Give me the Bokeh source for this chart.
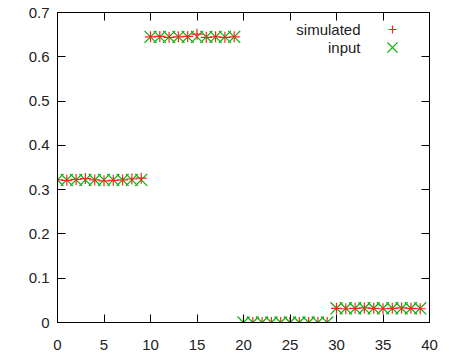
from bokeh.plotting import figure
from bokeh.models import (Range1d, LinearAxis, FixedTicker, Legend, LegendItem, Label,
                          CustomLabelingPolicy)
from bokeh.embed import file_html
from bokeh.resources import INLINE

# data
x_vals = list(range(40))
simulated = [0.322, 0.321, 0.323, 0.325, 0.322, 0.320, 0.321, 0.322, 0.324, 0.326,
             0.645, 0.646, 0.644, 0.645, 0.646, 0.651, 0.644, 0.645, 0.644, 0.645,
             0.000, 0.000, 0.000, 0.000, 0.000, 0.000, 0.000, 0.000, 0.000, 0.000,
             0.032, 0.031, 0.032, 0.033, 0.032, 0.031, 0.032, 0.033, 0.032, 0.031]
inputs = [0.322] * 10 + [0.645] * 10 + [0.0] * 10 + [0.032] * 10
x_ticks = [0, 5, 10, 15, 20, 25, 30, 35, 40]
y_ticks = [0, 0.1, 0.2, 0.3, 0.4, 0.5, 0.6, 0.7]
series_labels = ["simulated", "input"]

FONT = "Liberation Sans"
RED = "#ff2020"
GREEN = "#10b010"

p = figure(width=441, height=352, output_backend="svg", toolbar_location=None,
           x_range=Range1d(0, 40), y_range=Range1d(0, 0.7),
           min_border_left=57, min_border_right=12, min_border_top=12, min_border_bottom=29)
p.grid.visible = False
p.outline_line_color = "black"
p.background_fill_color = "white"

r_in = p.scatter(x_vals, inputs, marker="x", size=17, line_color=GREEN, line_width=1.3)
r_sim = p.scatter(x_vals, simulated, marker="cross", size=11, line_color=RED, line_width=1.2)

no_labels = CustomLabelingPolicy(code="for (const i of Array.from(indices)) { indices.unset(i) }")

def style(ax, ticks, show_labels=True):
    ax.ticker = FixedTicker(ticks=ticks)
    ax.major_tick_in = 8
    ax.major_tick_out = 0
    ax.minor_tick_in = 0
    ax.minor_tick_out = 0
    ax.axis_line_color = "black"
    ax.major_tick_line_color = "black"
    ax.major_label_text_font = FONT
    ax.major_label_text_color = "#222222"
    if show_labels:
        ax.major_label_text_font_size = "15px"
    else:
        ax.major_label_text_font_size = "1px"
        ax.major_label_standoff = 0
        ax.major_label_policy = no_labels

style(p.xaxis[0], x_ticks)
style(p.yaxis[0], y_ticks)
p.xaxis[0].major_label_standoff = 17
p.yaxis[0].major_label_standoff = 8
p.yaxis[0].major_label_overrides = {0: "0"}

top = LinearAxis()
style(top, x_ticks, False)
p.add_layout(top, "above")
right = LinearAxis()
style(right, y_ticks, False)
p.add_layout(right, "right")

# legend samples (gnuplot style: text left, sample right)
for rend, box, center_y in [(r_sim, 20, 293), (r_in, 36, 275)]:
    lg = Legend(items=[LegendItem(label="", renderers=[rend])],
                location=(335 - box / 2, center_y - box / 2), padding=0, margin=0, spacing=0,
                glyph_width=box, glyph_height=box, label_standoff=0, label_width=0,
                label_text_font_size="15px",
                border_line_color=None, background_fill_alpha=0)
    p.add_layout(lg, "center")

for lbl, yy in zip(series_labels, [293, 275]):
    p.add_layout(Label(x=303, y=yy, x_units="screen", y_units="screen", text=lbl,
                       text_align="right", text_baseline="middle",
                       text_font=FONT, text_font_size="15px", text_color="#222222"))

open("out.html", "w").write(file_html(p, INLINE))
